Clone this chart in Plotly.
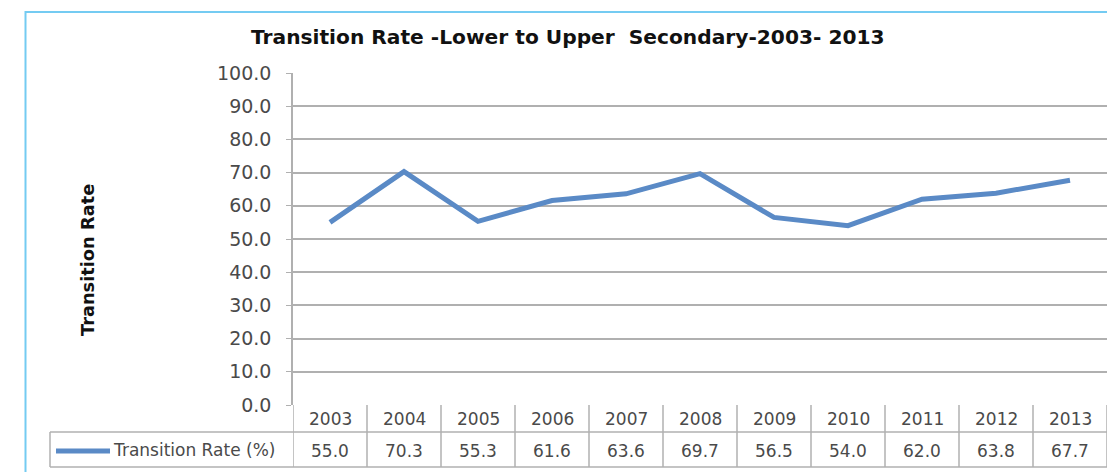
import plotly.graph_objects as go

years = ["2003", "2004", "2005", "2006", "2007", "2008", "2009", "2010", "2011", "2012", "2013"]
rates = [55.0, 70.3, 55.3, 61.6, 63.6, 69.7, 56.5, 54.0, 62.0, 63.8, 67.7]
y_ticks = [0, 10, 20, 30, 40, 50, 60, 70, 80, 90, 100]
series_name = "Transition Rate (%)"
title_text = "Transition Rate -Lower to Upper&nbsp; Secondary-2003- 2013"
y_title = "Transition Rate"

W, H = 1107, 472
FONT = "DejaVu Sans"
LINE_COLOR = "#5a8ac6"
GRID = "#b0b0b0"
TXT = "#4a4a4a"


def px(x):
    return x / W


def py(y):
    return 1 - y / H


plot_left, plot_right = 293, 1107
plot_top, plot_bottom = 73, 405
row1_bottom, row2_bottom = 432, 467
legend_left = 50

fig = go.Figure()
fig.add_trace(go.Scatter(
    x=list(range(len(years))), y=rates, mode="lines",
    line=dict(color=LINE_COLOR, width=5), showlegend=False, hoverinfo="skip",
))

shapes = []
for yy in (row1_bottom, row2_bottom):
    shapes.append(dict(type="line", xref="paper", yref="paper", x0=px(legend_left), x1=px(W + 5),
                       y0=py(yy), y1=py(yy), line=dict(color=GRID, width=1.5)))
for i in range(len(years) + 1):
    shapes.append(dict(type="line", xref="x", yref="paper", x0=i - 0.5, x1=i - 0.5,
                       y0=py(plot_bottom), y1=py(row2_bottom), line=dict(color=GRID, width=1.5)))
shapes.append(dict(type="line", xref="paper", yref="paper", x0=px(legend_left), x1=px(legend_left),
                   y0=py(row1_bottom), y1=py(row2_bottom), line=dict(color=GRID, width=1.5)))
shapes.append(dict(type="line", xref="paper", yref="paper", x0=px(56), x1=px(110),
                   y0=py(451), y1=py(451), line=dict(color=LINE_COLOR, width=5)))
shapes.append(dict(type="rect", xref="paper", yref="paper", x0=px(25.5), x1=px(W + 10),
                   y0=py(12), y1=py(H + 10), line=dict(color="#74cbf2", width=2)))

annotations = []
for i, (yr, v) in enumerate(zip(years, rates)):
    annotations.append(dict(x=i, y=py(419), xref="x", yref="paper", text=yr, showarrow=False,
                            xanchor="center", yanchor="middle",
                            font=dict(family=FONT, size=17, color=TXT)))
    annotations.append(dict(x=i, y=py(451), xref="x", yref="paper", text=f"{v:.1f}", showarrow=False,
                            xanchor="center", yanchor="middle",
                            font=dict(family=FONT, size=17, color=TXT)))
annotations.append(dict(x=px(111), y=py(450), xref="paper", yref="paper", text=series_name,
                        showarrow=False, xanchor="left", yanchor="middle",
                        font=dict(family=FONT, size=17, color=TXT)))
annotations.append(dict(x=px(568), y=py(37), xref="paper", yref="paper", text=f"<b>{title_text}</b>",
                        showarrow=False, xanchor="center", yanchor="middle",
                        font=dict(family=FONT, size=20.2, color="#111111")))
annotations.append(dict(x=px(87), y=py(260), xref="paper", yref="paper", text=f"<b>{y_title}</b>",
                        showarrow=False, textangle=-90, xanchor="center", yanchor="middle",
                        font=dict(family=FONT, size=17.8, color="#111111")))

fig.update_layout(
    width=W, height=H, margin=dict(l=0, r=0, t=0, b=0, pad=0, autoexpand=False),
    paper_bgcolor="white", plot_bgcolor="white",
    shapes=shapes, annotations=annotations,
    xaxis=dict(domain=[px(plot_left), px(plot_right)], range=[-0.5, len(years) - 0.5],
               showticklabels=False, showgrid=False, zeroline=False, showline=False, ticks=""),
    yaxis=dict(domain=[py(plot_bottom), py(plot_top)], range=[0, 100], tickvals=y_ticks,
               ticktext=[f"{t:.1f}" for t in y_ticks], showgrid=True, gridcolor=GRID, gridwidth=1.5,
               zeroline=False, showline=True, linecolor=GRID, linewidth=1.5,
               ticks="outside", ticklen=5, tickcolor=GRID, ticklabelstandoff=11,
               tickfont=dict(family=FONT, size=19, color=TXT)),
)

fig.write_html("out.html")
